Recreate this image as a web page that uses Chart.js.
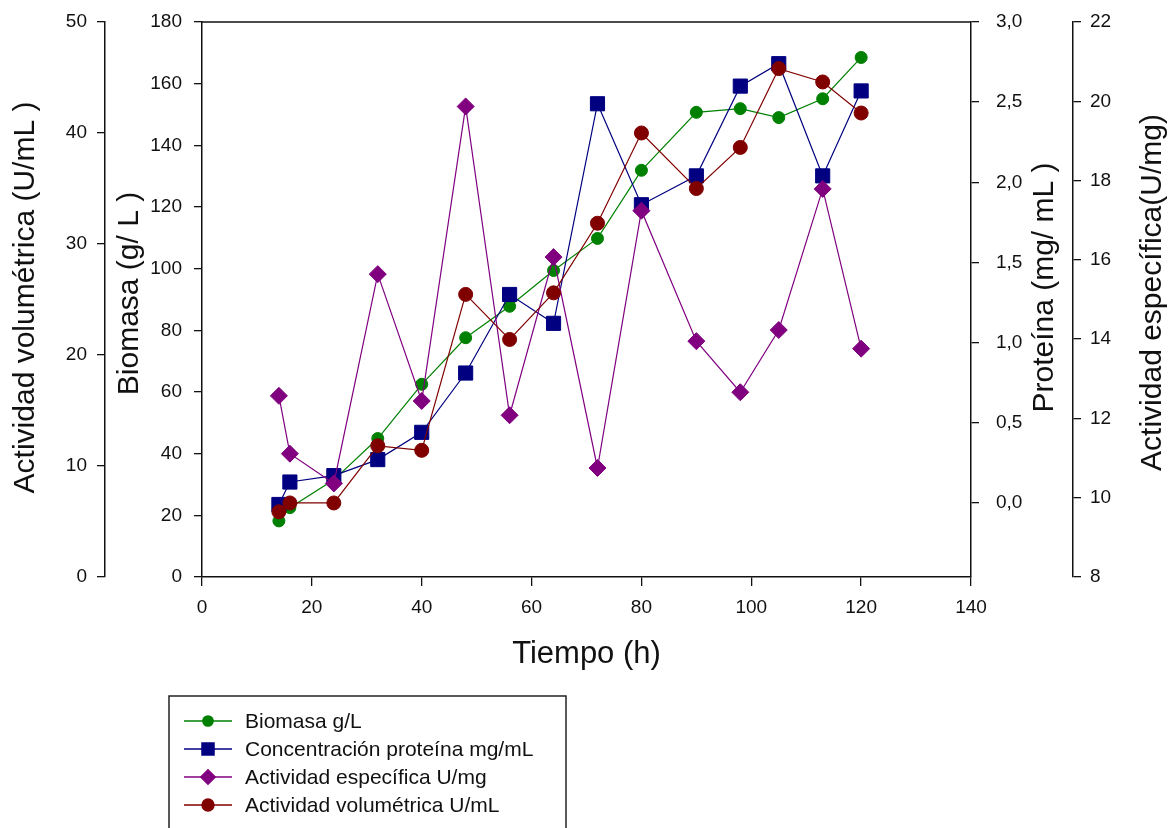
<!DOCTYPE html>
<html>
<head>
<meta charset="utf-8">
<script src="https://cdn.jsdelivr.net/npm/chart.js@4.4.1/dist/chart.umd.min.js"></script>
<style>
html,body{margin:0;padding:0;background:#ffffff;}
canvas{display:block;}
</style>
</head>
<body>
<canvas id="c" width="1172" height="828"></canvas>
<script>
// ---- data ----
const tiempo = [14, 16, 24, 32, 40, 48, 56, 64, 72, 80, 90, 98, 105, 113, 120];
const biomasa = [18.2, 22.5, 31.5, 44.9, 62.5, 77.6, 87.8, 99.4, 109.8, 131.9, 150.7, 151.9, 149.0, 155.1, 168.5];
const proteina = [-0.01, 0.13, 0.17, 0.27, 0.44, 0.81, 1.30, 1.12, 2.49, 1.86, 2.04, 2.60, 2.74, 2.04, 2.57];
const especifica = [12.57, 11.11, 10.36, 15.64, 12.44, 19.87, 12.08, 16.07, 10.75, 17.24, 13.95, 12.66, 14.23, 17.79, 13.76];
const volumetrica = [5.87, 6.67, 6.67, 11.82, 11.41, 25.46, 21.4, 25.6, 31.87, 40.0, 35.0, 38.7, 45.8, 44.6, 41.8];

const seriesLabels = ['Biomasa g/L', 'Concentración proteína mg/mL', 'Actividad específica U/mg', 'Actividad volumétrica U/mL'];
const axisTitles = {
  yVol: 'Actividad volumétrica (U/mL )',
  yBio: 'Biomasa (g/ L )',
  yPro: 'Proteína (mg/ mL )',
  yEsp: 'Actividad específica(U/mg)',
  x: 'Tiempo (h)'
};
const proteinaTicks = [0, 0.5, 1.0, 1.5, 2.0, 2.5, 3.0];

const FONT = "'Liberation Sans', Arial, sans-serif";
const INK = '#111111';
const TICK_SIZE = 19;

function pts(ys) { return tiempo.map((t, i) => ({x: t, y: ys[i]})); }

function yAxis(position, weight, min, max, step, width, pad, title, extra) {
  return Object.assign({
    type: 'linear', position: position, weight: weight, min: min, max: max,
    ticks: {stepSize: step, color: INK, font: {family: FONT, size: TICK_SIZE}, padding: pad},
    grid: {drawOnChartArea: false, drawTicks: true, tickLength: 8, color: INK, lineWidth: 1.3},
    border: {display: true, color: INK, width: 1.5},
    title: {display: false, text: title},
    afterFit: s => { s.width = width; s.paddingTop = 0; s.paddingBottom = 0; }
  }, extra || {});
}

const titlePlugin = {
  id: 'axisTitleDraw',
  afterDraw(chart, args, opts) {
    const ctx = chart.ctx;
    const mid = (chart.chartArea.top + chart.chartArea.bottom) / 2;
    opts.items.forEach(it => {
      const s = chart.scales[it.scale];
      ctx.save();
      ctx.font = it.size + 'px ' + FONT;
      ctx.fillStyle = INK;
      ctx.textAlign = 'center';
      ctx.textBaseline = 'middle';
      ctx.translate(s.left + it.dx, mid + it.dy);
      ctx.rotate(-Math.PI / 2);
      ctx.fillText(s.options.title.text, 0, 0);
      ctx.restore();
    });
  }
};

const framePlugin = {
  id: 'frameTop',
  afterDraw(chart) {
    const {ctx, chartArea} = chart;
    ctx.save();
    ctx.strokeStyle = INK;
    ctx.lineWidth = 1.5;
    ctx.beginPath();
    ctx.moveTo(chartArea.left, chartArea.top);
    ctx.lineTo(chartArea.right, chartArea.top);
    ctx.stroke();
    ctx.restore();
  }
};

const legendPlugin = {
  id: 'boxLegend',
  afterDraw(chart, args, o) {
    const ctx = chart.ctx;
    ctx.save();
    ctx.strokeStyle = '#222';
    ctx.lineWidth = 1.5;
    ctx.strokeRect(o.left, o.top, o.width, o.height);
    const order = [0, 1, 2, 3];
    order.forEach((di, r) => {
      const ds = chart.data.datasets[di];
      const y = o.firstRow + r * o.rowGap;
      ctx.strokeStyle = ds.borderColor;
      ctx.lineWidth = 1.5;
      ctx.beginPath();
      ctx.moveTo(o.lineX0, y);
      ctx.lineTo(o.lineX1, y);
      ctx.stroke();
      ctx.fillStyle = ds.backgroundColor;
      ctx.strokeStyle = ds.borderColor;
      Chart.helpers.drawPoint(ctx, {pointStyle: ds.pointStyle, radius: ds.pointRadius * 0.85, rotation: 0, borderWidth: 1}, (o.lineX0 + o.lineX1) / 2, y);
      ctx.fillStyle = INK;
      ctx.font = o.size + 'px ' + FONT;
      ctx.textAlign = 'left';
      ctx.textBaseline = 'middle';
      ctx.fillText(ds.label, o.textX, y + 1);
    });
    ctx.restore();
  }
};

const bgPlugin = {
  id: 'bg',
  beforeDraw(chart) {
    const ctx = chart.ctx;
    ctx.save();
    ctx.fillStyle = '#ffffff';
    ctx.fillRect(0, 0, chart.width, chart.height);
    ctx.restore();
  }
};

function ds(label, data, color, style, radius, axis, order) {
  return {
    label: label, data: pts(data), yAxisID: axis, order: order,
    borderColor: color, backgroundColor: color, borderWidth: 1.2,
    pointStyle: style, pointRadius: radius, pointBorderWidth: 1,
    pointBackgroundColor: color, pointBorderColor: color,
    showLine: true, tension: 0, fill: false
  };
}

new Chart(document.getElementById('c'), {
  type: 'line',
  data: {
    datasets: [
      ds(seriesLabels[0], biomasa, '#008000', 'circle', 6, 'yBio', 4),
      ds(seriesLabels[1], proteina, '#000080', 'rect', 10, 'yPro', 3),
      ds(seriesLabels[2], especifica, '#800080', 'rectRot', 8.5, 'yEsp', 2),
      ds(seriesLabels[3], volumetrica, '#800000', 'circle', 7, 'yVol', 1)
    ]
  },
  options: {
    responsive: false,
    animation: false,
    events: [],
    layout: {padding: {top: 22, left: 0, right: 0, bottom: 151}},
    plugins: {
      legend: {display: false},
      tooltip: {enabled: false},
      axisTitleDraw: {items: [
        {scale: 'yVol', dx: 26, dy: -2, size: 30},
        {scale: 'yBio', dx: 25, dy: -6, size: 30},
        {scale: 'yPro', dx: 74, dy: -12, size: 30},
        {scale: 'yEsp', dx: 80, dy: -7, size: 30}
      ]},
      boxLegend: {left: 169, top: 696, width: 397, height: 160, firstRow: 721, rowGap: 28, lineX0: 184, lineX1: 232, textX: 245, size: 21}
    },
    scales: {
      x: {
        type: 'linear', position: 'bottom', min: 0, max: 140,
        ticks: {stepSize: 20, color: INK, font: {family: FONT, size: TICK_SIZE}, padding: 10, maxRotation: 0, autoSkip: false},
        grid: {drawOnChartArea: false, drawTicks: true, tickLength: 9, color: INK, lineWidth: 1.3},
        border: {display: true, color: INK, width: 1.5},
        title: {display: true, text: axisTitles.x, color: INK, font: {family: FONT, size: 31}, padding: {top: 0, bottom: 4}},
        afterFit: s => { s.height = 100; }
      },
      yVol: yAxis('left', 1, 0, 50, 10, 105, 10, axisTitles.yVol),
      yBio: yAxis('left', 0, 0, 180, 20, 97, 12, axisTitles.yBio),
      yPro: yAxis('right', 0, -0.4625, 3.0, 0.5, 102, 17, axisTitles.yPro, {
        afterBuildTicks: s => { s.ticks = proteinaTicks.map(v => ({value: v})); }
      }),
      yEsp: yAxis('right', 1, 8, 22, 2, 99, 9, axisTitles.yEsp)
    }
  },
  plugins: [bgPlugin, framePlugin, titlePlugin, legendPlugin]
});

// comma decimal labels for the protein axis
const ch = Chart.getChart('c');
ch.options.scales.yPro.ticks.callback = v => (Math.round(v * 10) / 10).toFixed(1).replace('.', ',');
ch.update('none');
</script>
</body>
</html>
